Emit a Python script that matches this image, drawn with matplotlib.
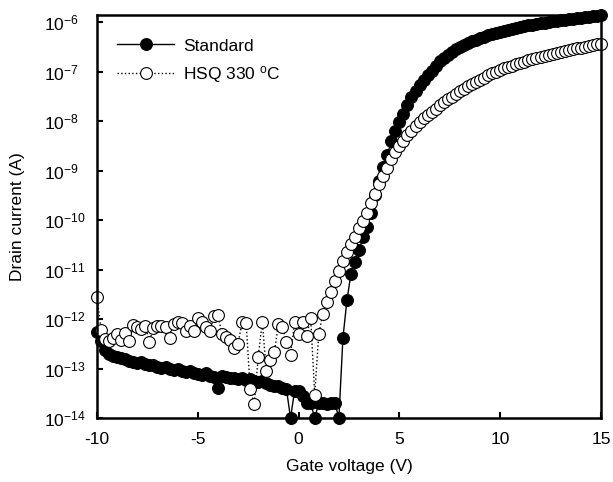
import numpy as np
import matplotlib
matplotlib.use("Agg")
import matplotlib.pyplot as plt

plt.rcParams["font.family"] = ["Liberation Sans", "DejaVu Sans"]
plt.rcParams["mathtext.default"] = "regular"
plt.rcParams["axes.unicode_minus"] = False

# gate voltage sweep, -10 V .. 15 V in 0.2 V steps
gate_v = np.round(np.arange(-10.0, 15.0001, 0.2), 1)

# log10 of drain current (A)
standard_log = [
    -12.27, -12.45, -12.62, -12.70, -12.74, -12.76, -12.79, -12.81, -12.84, -12.86,
    -12.88, -12.87, -12.91, -12.93, -12.92, -12.96, -12.98, -12.97, -13.00, -13.02,
    -13.01, -13.05, -13.07, -13.06, -13.10, -13.11, -13.13, -13.10, -13.15, -13.17,
    -13.40, -13.16, -13.18, -13.20, -13.19, -13.22, -13.20, -13.24, -13.22, -13.25,
    -13.27, -13.26, -13.30, -13.33, -13.36, -13.35, -13.40, -13.42, -14.00, -13.46,
    -13.45, -13.55, -13.70, -13.70, -14.00, -13.70, -13.70, -13.72, -13.70, -13.70,
    -14.00, -12.38, -11.62, -11.08, -10.85, -10.60, -10.35, -10.13, -9.85, -9.50,
    -9.22, -8.93, -8.68, -8.41, -8.20, -8.01, -7.85, -7.67, -7.52, -7.40,
    -7.28, -7.16, -7.07, -6.98, -6.88, -6.79, -6.73, -6.66, -6.60, -6.55,
    -6.51, -6.47, -6.43, -6.39, -6.36, -6.32, -6.29, -6.26, -6.24, -6.21,
    -6.19, -6.17, -6.15, -6.13, -6.11, -6.10, -6.08, -6.06, -6.05, -6.03,
    -6.02, -6.01, -5.99, -5.98, -5.97, -5.96, -5.95, -5.94, -5.93, -5.92,
    -5.91, -5.90, -5.89, -5.88, -5.87, -5.86,
]

hsq_log = [
    -11.55, -12.22, -12.40, -12.45, -12.38, -12.30, -12.42, -12.28, -12.45, -12.12,
    -12.16, -12.20, -12.14, -12.46, -12.18, -12.15, -12.14, -12.17, -12.38, -12.10,
    -12.05, -12.08, -12.25, -12.14, -12.24, -11.98, -12.07, -12.16, -12.25, -11.94,
    -11.92, -12.31, -12.36, -12.42, -12.58, -12.50, -12.05, -12.08, -13.42, -13.71,
    -12.76, -12.05, -13.06, -12.82, -12.66, -12.11, -12.16, -12.46, -12.72, -12.07,
    -12.31, -12.07, -12.35, -11.97, -13.53, -12.31, -11.90, -11.66, -11.45, -11.23,
    -11.02, -10.82, -10.65, -10.49, -10.34, -10.17, -10.01, -9.85, -9.66, -9.47,
    -9.27, -9.10, -8.94, -8.77, -8.63, -8.50, -8.40, -8.29, -8.19, -8.10,
    -8.02, -7.94, -7.88, -7.82, -7.75, -7.67, -7.61, -7.56, -7.51, -7.45,
    -7.40, -7.35, -7.30, -7.25, -7.21, -7.16, -7.12, -7.07, -7.03, -7.00,
    -6.97, -6.93, -6.90, -6.88, -6.85, -6.82, -6.80, -6.77, -6.74, -6.72,
    -6.70, -6.68, -6.66, -6.64, -6.62, -6.60, -6.58, -6.57, -6.55, -6.53,
    -6.52, -6.50, -6.48, -6.47, -6.45, -6.44,
]

standard_i = 10.0 ** np.array(standard_log)
hsq_i = 10.0 ** np.array(hsq_log)

fig = plt.figure(figsize=(6.13, 4.82), dpi=100)
ax = fig.add_axes([0.1582, 0.1328, 0.8222, 0.8361])

ax.plot(gate_v, standard_i, "-", color="black", lw=1.0, marker="o",
        ms=8.5, mfc="black", mec="black", mew=0.8, clip_on=False,
        label="Standard")
ax.plot(gate_v, hsq_i, ":", color="black", lw=1.0, marker="o",
        ms=8.5, mfc="white", mec="black", mew=0.8, clip_on=False,
        label="HSQ 330 $^{o}$C")

ax.set_yscale("log")
ax.set_xlim(-10, 15)
ax.set_ylim(1e-14, 10 ** -5.855)
ax.set_xticks([-10, -5, 0, 5, 10, 15])
ax.set_yticks([10.0 ** k for k in range(-14, -5)])
ax.minorticks_off()

ax.tick_params(direction="in", length=4, width=1.5, labelsize=12.5,
               top=False, right=False)
ax.tick_params(axis="x", pad=10)
ax.tick_params(axis="y", pad=38)
for lbl in ax.get_yticklabels():
    lbl.set_horizontalalignment("left")
for side in ax.spines.values():
    side.set_linewidth(1.8)

ax.set_xlabel("Gate voltage (V)", fontsize=12.5, labelpad=9)
ax.set_ylabel("Drain current (A)", fontsize=12.5)
ax.yaxis.set_label_coords(-0.143, 0.5)

ax.legend(loc="upper left", bbox_to_anchor=(0.005, 0.985), frameon=False,
          fontsize=12.5, handlelength=3.3, handletextpad=0.5,
          labelspacing=0.6, borderaxespad=0.6)

fig.savefig("out.png", dpi=100)
